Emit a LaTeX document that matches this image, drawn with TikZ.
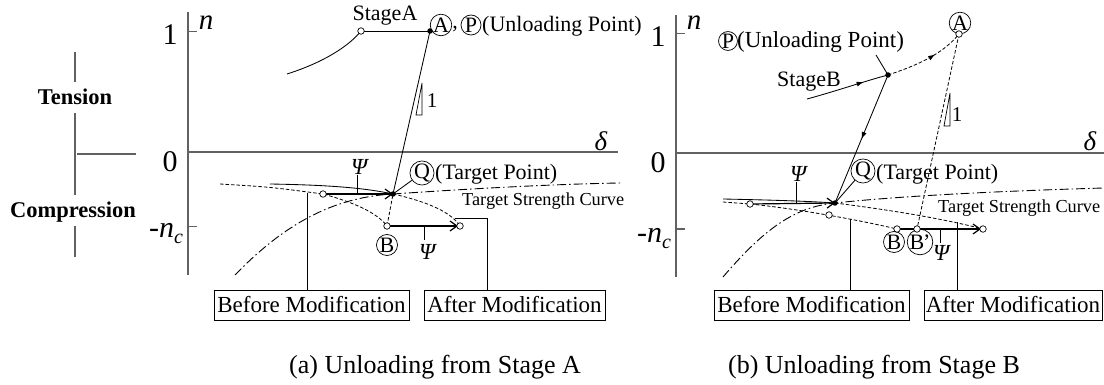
\documentclass[tikz,border=0pt]{standalone}
\usepackage{fontspec}
\setmainfont{Liberation Serif}
\usetikzlibrary{arrows.meta,decorations.markings}
\tikzset{
 fs/.style={inner sep=0pt, font=\fontsize{#1}{#1}\selectfont},
 ax/.style={draw=black!62, line width=1.3pt},
 thinl/.style={line width=0.85pt},
 dsh/.style={line width=0.8pt, dash pattern=on 3.5pt off 2pt},
 ddot/.style={line width=0.9pt, dash pattern=on 9pt off 3pt on 1.5pt off 3pt},
 opn/.style={circle, draw, fill=white, inner sep=0pt, minimum size=6.5pt, line width=0.7pt},
 dot/.style={circle, fill, inner sep=0pt, minimum size=5.5pt},
 circ/.style={circle, draw, inner sep=0pt, minimum size=#1, line width=0.7pt, font=\fontsize{22}{22}\selectfont},
 lbl/.style={inner sep=0pt, font=\fontsize{22}{22}\selectfont},
 boxlbl/.style={draw, line width=0.8pt, minimum height=30pt, inner sep=0pt, font=\fontsize{23}{23}\selectfont},
 harr/.style={line width=1.2pt, -{Straight Barb[length=7pt,width=10pt]}},
 midarr/.style={postaction={decorate}, decoration={markings, mark=at position #1 with {\arrow{Latex[length=7pt,width=5pt]}}}},
}
\begin{document}
\begin{tikzpicture}[x=1pt,y=-1pt]
\useasboundingbox (0,0) rectangle (1104,385);

% ---------------- Tension / Compression bracket
\coordinate (t1) at (75,52); \coordinate (t2) at (75,82);
\coordinate (t3) at (75,113); \coordinate (t4) at (75,195);
\coordinate (t5) at (75,226); \coordinate (t6) at (75,257);
\coordinate (th0) at (77,154); \coordinate (th1) at (136,154);
\draw[ax] (t1) -- (t2); \draw[ax] (t3) -- (t4); \draw[ax] (t5) -- (t6);
\draw[ax] (th0) -- (th1);
\node[lbl, anchor=base, font=\fontsize{22.5}{22}\selectfont\bfseries] (tens) at (75,105) {Tension};
\node[lbl, anchor=base, font=\fontsize{22.5}{22}\selectfont\bfseries] (comp) at (73,218) {Compression};

% ================= Panel (a)
\coordinate (aYt) at (188,12); \coordinate (aYb) at (188,275);
\coordinate (aO) at (188,152); \coordinate (aXe) at (618,152);
\coordinate (aT1) at (188,32); \coordinate (aT1e) at (197,32);
\coordinate (aTc) at (188,227); \coordinate (aTce) at (197,227);
\draw[ax] (aYt) -- (aYb); \draw[ax] (aO) -- (aXe);
\draw[ax, line width=1pt] (aT1) -- (aT1e); \draw[ax, line width=1pt] (aTc) -- (aTce);
\node[fs=30] (a1) at (170,35) {1};
\node[fs=30] (a0) at (170,162) {0};
\node[fs=30, anchor=base] (anc) at (166,237) {-\textit{n}\raisebox{-6pt}{\fontsize{20}{20}\selectfont\textit{c}}};
\node[fs=29] (an) at (206,23) {\textit{n}};
\node[fs=27] (ad) at (601,141) {\textit{δ}};

\coordinate (aS0) at (287,74);
\coordinate (aS) at (361,31);
\coordinate (aA) at (430,31);
\coordinate (aQ) at (393,194);
\coordinate (aC) at (323,194);
\coordinate (aB) at (387,226);
\coordinate (aBa) at (460,226);
\coordinate (aD0) at (220,184);
\coordinate (aL0) at (270,184);
\coordinate (aTS0) at (235,275);
\coordinate (aTS1) at (620,183);

% target strength curve
\draw[ddot] (aTS0) .. controls (290,218) and (340,197) .. (aQ) .. controls (480,188) and (560,184) .. (aTS1);
% stage curve
\draw[thinl] (aS0) .. controls (325,62) and (350,45) .. (aS);
\draw[thinl] (aS) -- (aA);
\draw[thinl] (aA) -- (aQ);
% triangle
\coordinate (aTr1) at (422,83); \coordinate (aTr2) at (422,115); \coordinate (aTr3) at (416,115);
\draw[line width=0.7pt] (aTr1) -- (aTr2) -- (aTr3) -- cycle;
\node[fs=21, anchor=base] (aone) at (432,108) {1};
% dashed curves
\draw[dsh] (aD0) .. controls (270,187) .. (aC) .. controls (345,200) and (375,210) .. (aB);
\draw[dsh] (aQ) .. controls (420,200) and (450,210) .. (aBa);
\draw[dsh] (aB) -- (aQ);
% solid approach
\draw[thinl] (aL0) .. controls (330,185) and (365,188) .. (aQ);
\draw[harr] (aC) -- (aQ);
\draw[harr, shorten >=2pt] (aB) -- (aBa);
% psi ticks
\coordinate (aP1) at (357,175); \coordinate (aP1b) at (357,194);
\draw[thinl] (aP1) -- (aP1b);
\node[fs=23] (apsi1) at (360,167) {\textit{Ψ}};
\coordinate (aP2) at (424,226); \coordinate (aP2b) at (424,240);
\draw[thinl] (aP2) -- (aP2b);
\node[fs=23] (apsi2) at (428,252) {\textit{Ψ}};
% labels
\node[lbl, anchor=base] (aStage) at (385,21) {StageA};
\node[circ=20pt] (aAl) at (441,25) {A};
\node[lbl, anchor=base] (aComma) at (455,29) {,};
\node[circ=20pt] (aPl) at (471,25) {P};
\node[lbl, anchor=base west] (aUnl) at (482,32) {(Unloading Point)};
\node[circ=21pt] (aQl) at (422,173) {Q};
\node[lbl, anchor=base west] (aTgt) at (435,180) {(Target Point)};
\draw[thinl] (aQl) -- (aQ);
\node[circ=21pt] (aBl) at (387,245) {B};
\node[fs=18.3, anchor=base west] (aTSC) at (462,206) {Target Strength Curve};
% boxes
\node[boxlbl, minimum width=195pt] (aBefore) at (311.5,305) {Before Modification};
\node[boxlbl, minimum width=181pt] (aAfter) at (514.5,305) {After Modification};
\coordinate (aBf0) at (307,193);
\draw[thinl] (aBf0) -- (aBf0 |- aBefore.north);
\coordinate (aAf0) at (455,218); \coordinate (aAf1) at (487,218);
\draw[thinl] (aAf0) -- (aAf1) -- (aAf1 |- aAfter.north);
% markers
\node[opn] (aSm) at (aS) {};
\node[dot] (aAm) at (aA) {};
\node[dot] (aQm) at (aQ) {};
\node[opn] (aCm) at (aC) {};
\node[opn] (aBm) at (aB) {};
\node[opn] (aBam) at (aBa) {};
\node[fs=26, anchor=base] (capA) at (435,373) {(a) Unloading from Stage A};

% ================= Panel (b)
\coordinate (bYt) at (676,15); \coordinate (bYb) at (676,277);
\coordinate (bO) at (676,153); \coordinate (bXe) at (1104,153);
\coordinate (bT1) at (676,34); \coordinate (bT1e) at (685,34);
\coordinate (bTc) at (676,229); \coordinate (bTce) at (685,229);
\draw[ax] (bYt) -- (bYb); \draw[ax] (bO) -- (bXe);
\draw[ax, line width=1pt] (bT1) -- (bT1e); \draw[ax, line width=1pt] (bTc) -- (bTce);
\node[fs=30] (b1) at (658,37) {1};
\node[fs=30] (b0) at (658,163) {0};
\node[fs=30, anchor=base] (bnc) at (654,242) {-\textit{n}\raisebox{-6pt}{\fontsize{20}{20}\selectfont\textit{c}}};
\node[fs=29] (bn) at (694,23) {\textit{n}};
\node[fs=27] (bd) at (1090,141) {\textit{δ}};

\coordinate (bS0) at (807,99);
\coordinate (bP) at (888,75);
\coordinate (bA) at (959,34);
\coordinate (bQ) at (835,203);
\coordinate (bC) at (750,204);
\coordinate (bM) at (829,215);
\coordinate (bB) at (897,229);
\coordinate (bBp) at (917,229);
\coordinate (bBa) at (983,229);
\coordinate (bD0) at (723,202);
\coordinate (bL0) at (723,199);
\coordinate (bTS0) at (723,277);
\coordinate (bTS1) at (1104,188);

\draw[ddot] (bTS0) .. controls (765,228) and (795,207) .. (bQ) .. controls (900,196) and (1000,191) .. (bTS1);
\draw[thinl, midarr=0.7] (bS0) .. controls (840,90) and (865,81) .. (bP);
\draw[dsh, midarr=0.62] (bP) .. controls (915,66) and (942,55) .. (bA);
\draw[thinl, midarr=0.5] (bP) -- (bQ);
\draw[dsh] (bA) -- (bBp);
\coordinate (bTr1) at (950,93); \coordinate (bTr2) at (950,126); \coordinate (bTr3) at (944,126);
\draw[line width=0.7pt] (bTr1) -- (bTr2) -- (bTr3) -- cycle;
\node[fs=21, anchor=base] (bone) at (957,122) {1};
\draw[dsh] (bD0) -- (bC) .. controls (790,208) and (850,218) .. (bB);
\draw[dsh] (bQ) .. controls (890,210) and (940,218) .. (bBa);
\draw[thinl] (bL0) .. controls (770,200) and (805,201) .. (bQ);
\draw[harr] (bC) -- (bQ);
\draw[harr, shorten >=2pt] (bB) -- (bBa);
\coordinate (bP1) at (796,182); \coordinate (bP1b) at (796,203);
\draw[thinl] (bP1) -- (bP1b);
\node[fs=23] (bpsi1) at (799,174) {\textit{Ψ}};
\coordinate (bP2) at (940,229); \coordinate (bP2b) at (940,243);
\draw[thinl] (bP2) -- (bP2b);
\node[fs=23] (bpsi2) at (942,253) {\textit{Ψ}};
% labels
\node[circ=18pt] (bPl) at (728,41) {P};
\node[lbl, anchor=base west, font=\fontsize{23}{23}\selectfont] (bUnl) at (737,48) {(Unloading Point)};
\coordinate (bPlead) at (876,55);
\draw[thinl] (bPlead) -- (bP);
\node[lbl, anchor=base] (bStage) at (809,87) {StageB};
\node[circ=18pt] (bAl) at (960,23) {A};
\node[circ=21pt] (bQl) at (863,171) {Q};
\node[lbl, anchor=base west] (bTgt) at (876,179) {(Target Point)};
\draw[thinl] (bQl) -- (bQ);
\node[circ=21pt] (bBl) at (894,242) {B};
\node[circ=22pt] (bBpl) at (920,242) {B\kern-1pt'};
\node[fs=18.3, anchor=base west] (bTSC) at (938,212) {Target Strength Curve};
% boxes
\node[boxlbl, minimum width=195pt] (bBefore) at (811.5,305) {Before Modification};
\node[boxlbl, minimum width=178pt] (bAfter) at (1013,305) {After Modification};
\coordinate (bBf0) at (850,219);
\draw[thinl] (bBf0) -- (bBf0 |- bBefore.north);
\coordinate (bAf0) at (957,222);
\draw[thinl] (bAf0) -- (bAf0 |- bAfter.north);
% markers
\node[dot] (bPm) at (bP) {};
\node[opn] (bAm) at (bA) {};
\node[dot] (bQm) at (bQ) {};
\node[opn] (bCm) at (bC) {};
\node[opn] (bMm) at (bM) {};
\node[opn] (bBm) at (bB) {};
\node[opn] (bBpm) at (bBp) {};
\node[opn] (bBam) at (bBa) {};
\node[fs=26, anchor=base] (capB) at (874,373) {(b) Unloading from Stage B};
\end{tikzpicture}
\end{document}
